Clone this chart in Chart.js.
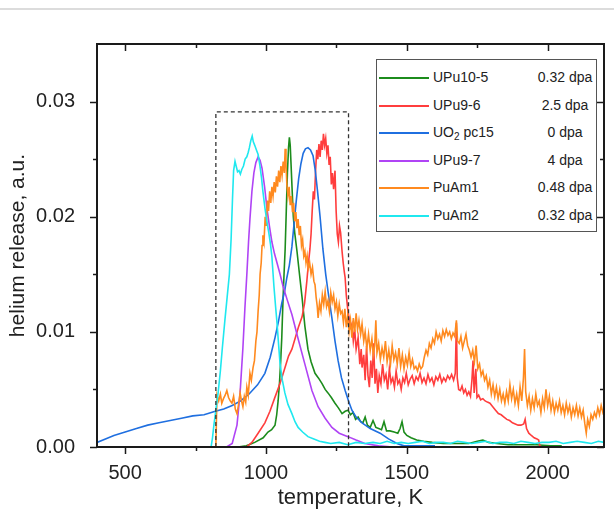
<!DOCTYPE html>
<html>
<head>
<meta charset="utf-8">
<title>helium release</title>
<script src="https://cdn.jsdelivr.net/npm/chart.js@4.4.0/dist/chart.umd.min.js"></script>
<style>
  body { margin: 0; background: #fff; font-family: "Liberation Sans", Arial, sans-serif; }
  #wrap { position: relative; width: 614px; height: 518px; }
  #topline { position: absolute; left: 0; top: 8px; width: 614px; height: 2px; background: #dcdcdc; }
  #legend { position: absolute; left: 376px; top: 59px; width: 219px; height: 167px; border: 1.5px solid #555;
            background: #fff; box-sizing: content-box; padding-top: 4px; color: #222; font-size: 14px; }
  .row { position: relative; height: 27.6px; }
  .sw { position: absolute; left: 2px; top: 13px; width: 50px; height: 2px; }
  .nm { position: absolute; left: 56px; top: 5px; white-space: nowrap; }
  .dp { position: absolute; left: 156px; width: 64px; top: 5px; text-align: center; white-space: nowrap; }
  sub { font-size: 10px; vertical-align: -3px; line-height: 0; }
</style>
</head>
<body>
<div id="wrap">
  <div id="topline"></div>
  <canvas id="chart" width="614" height="518"></canvas>
  <div id="legend"></div>
</div>
<script>
// temperature (K), helium release (a.u.)
const upu105 = [[600,0],[900,0],[930,0.0001],[960,0.0004],[990,0.0008],[1007,0.0013],[1020,0.0015],[1032,0.0019],[1038,0.0028],
  [1043,0.0040],[1048,0.0056],[1052,0.0074],[1056,0.0095],[1060,0.0125],[1064,0.0150],[1068,0.0172],[1072,0.0205],[1076,0.0238],
  [1080,0.0260],[1083,0.0269],[1086,0.0262],[1089,0.0245],[1093,0.0222],[1097,0.0200],[1102,0.0186],[1110,0.0170],[1118,0.0152],
  [1128,0.0130],[1138,0.0105],[1149,0.0085],[1160,0.0074],[1174,0.0064],[1186,0.0060],[1199,0.0055],[1210,0.0050],[1220,0.0047],
  [1232,0.0043],[1245,0.0038],[1257,0.0034],[1270,0.0029],[1281,0.0031],[1291,0.0032],[1300,0.0028],[1309,0.0030],[1318,0.0024],
  [1327,0.0026],[1336,0.0022],[1344,0.0021],[1352,0.0026],[1360,0.0019],[1370,0.0017],[1380,0.0023],[1390,0.0017],[1400,0.0016],
  [1410,0.0015],[1419,0.0022],[1428,0.0014],[1440,0.0014],[1455,0.0013],[1468,0.0012],[1476,0.0016],[1483,0.0022],[1490,0.0013],
  [1500,0.0010],[1515,0.0008],[1535,0.0006],[1560,0.0005],[1590,0.0004],[1630,0.0003],[1680,0.0003],[1720,0.0003],[1750,0.0005],
  [1770,0.0006],[1790,0.0004],[1820,0.0003],[1860,0.0002],[1910,0.0002],[1960,0.0002],[2010,0.0001],[2050,0.0001]];

const upu96 = [[900,0],[930,0],[950,0.0004],[972,0.0012],[996,0.0021],[1014,0.0031],[1030,0.0042],[1045,0.0052],[1056,0.0060],
  [1070,0.0071],[1080,0.0079],[1092,0.0085],[1103,0.0094],[1115,0.0104],[1128,0.0113],[1137,0.0125],[1145,0.0144],[1150,0.0158],
  [1156,0.0172],[1160,0.0185],[1164,0.0205],[1168,0.0222],[1172,0.0215],[1176,0.0240],[1180,0.0258],[1184,0.0250],[1188,0.0263],
  [1192,0.0252],[1196,0.0266],[1200,0.0258],[1204,0.0272],[1208,0.0262],[1212,0.0268],[1216,0.0255],[1220,0.0262],[1224,0.0245],
  [1228,0.0252],[1232,0.0228],[1236,0.0238],[1240,0.0224],[1245,0.0240],[1249,0.0205],[1253,0.0185],[1257,0.0178],[1261,0.0192],
  [1265,0.0186],[1270,0.0170],[1274,0.0160],[1278,0.0152],[1281,0.0147],[1285,0.0132],[1290,0.0120],[1295,0.0112],[1300,0.0104],
  [1305,0.0107],[1310,0.0092],[1315,0.0102],[1320,0.0085],[1327,0.0095],[1333,0.0072],[1338,0.0085],[1341,0.0069],[1347,0.0080],
  [1352,0.0058],[1357,0.0088],[1362,0.0062],[1367,0.0052],[1372,0.0075],[1377,0.0060],[1382,0.0090],[1387,0.0055],[1392,0.0068],
  [1397,0.0047],[1402,0.0062],[1408,0.0055],[1414,0.0072],[1420,0.0058],[1426,0.0063],[1432,0.0050],[1438,0.0068],[1444,0.0056],
  [1450,0.0060],[1456,0.0052],[1462,0.0066],[1468,0.0055],[1474,0.0058],[1480,0.0050],[1486,0.0060],[1492,0.0056],[1498,0.0064],
  [1505,0.0054],[1512,0.0059],[1519,0.0062],[1526,0.0055],[1533,0.0061],[1540,0.0058],[1547,0.0064],[1554,0.0056],[1561,0.0060],
  [1568,0.0055],[1575,0.0063],[1582,0.0057],[1589,0.0060],[1596,0.0054],[1603,0.0061],[1610,0.0058],[1617,0.0063],[1624,0.0056],
  [1631,0.0060],[1638,0.0057],[1645,0.0062],[1652,0.0059],[1659,0.0063],[1666,0.0058],[1672,0.0064],[1676,0.0108],[1679,0.0060],
  [1684,0.0050],[1690,0.0049],[1696,0.0053],[1702,0.0047],[1708,0.0050],[1714,0.0045],[1720,0.0048],[1726,0.0044],[1731,0.0058],
  [1735,0.0075],[1739,0.0047],[1745,0.0068],[1749,0.0043],[1755,0.0045],[1762,0.0041],[1770,0.0042],[1778,0.0040],[1786,0.0039],
  [1795,0.0038],[1805,0.0035],[1815,0.0032],[1825,0.0029],[1835,0.0028],[1845,0.0026],[1855,0.0024],[1865,0.0023],[1875,0.0021],
  [1885,0.0020],[1895,0.0019],[1905,0.0019],[1915,0.0020],[1920,0.0024],[1925,0.0016],[1933,0.0012],[1942,0.0010],[1952,0.0008],
  [1962,0.0007],[1968,0.0006],[1972,0.0001],[1980,0]];

const uo2pc15 = [[400,0.0004],[430,0.0007],[460,0.0010],[500,0.0013],[540,0.0016],[580,0.0019],[620,0.0021],[660,0.0023],
  [700,0.0025],[740,0.0027],[780,0.0028],[820,0.0031],[850,0.0033],[880,0.0036],[910,0.0040],[940,0.0046],[970,0.0054],
  [996,0.0064],[1015,0.0078],[1032,0.0095],[1045,0.0110],[1056,0.0125],[1066,0.0135],[1074,0.0147],[1083,0.0158],[1092,0.0174],
  [1100,0.0195],[1108,0.0215],[1116,0.0233],[1124,0.0246],[1132,0.0255],[1140,0.0259],[1149,0.0260],[1158,0.0258],[1167,0.0253],
  [1175,0.0240],[1183,0.0222],[1192,0.0200],[1202,0.0172],[1212,0.0150],[1222,0.0132],[1234,0.0112],[1245,0.0092],[1256,0.0075],
  [1268,0.0060],[1281,0.0049],[1293,0.0040],[1305,0.0032],[1320,0.0026],[1341,0.0021],[1370,0.0016],[1405,0.0012],[1435,0.0007],
  [1465,0.0003],[1490,0.0001],[1530,0.0001],[1600,0.0001]];

const upu97 = [[590,0],[860,0],[880,0.0003],[897,0.0019],[908,0.0047],[918,0.0086],[925,0.0120],[932,0.0150],[938,0.0178],
  [943,0.0198],[950,0.0222],[957,0.0238],[964,0.0247],[972,0.0252],[979,0.0249],[986,0.0242],[995,0.0226],[1003,0.0208],
  [1012,0.0192],[1021,0.0178],[1030,0.0168],[1039,0.0160],[1050,0.0150],[1060,0.0140],[1075,0.0128],[1092,0.0115],[1114,0.0094],
  [1138,0.0072],[1163,0.0049],[1185,0.0035],[1210,0.0025],[1234,0.0017],[1260,0.0012],[1291,0.0009],[1320,0.0006],[1351,0.0003],
  [1400,0.0001],[1450,0],[2000,0]];

const puam1 = [[822,0],[826,0.0045],[832,0.0040],[838,0.0046],[843,0.0038],[849,0.0042],[855,0.0045],[861,0.0049],[867,0.0043],
  [873,0.0040],[879,0.0038],[885,0.0044],[891,0.0033],[897,0.0029],[902,0.0036],[908,0.0047],[913,0.0040],[918,0.0035],[923,0.0044],
  [928,0.0039],[932,0.0052],[937,0.0045],[943,0.0064],[948,0.0058],[954,0.0069],[959,0.0075],[964,0.0092],[968,0.0100],[972,0.0118],
  [976,0.0132],[979,0.0150],[983,0.0160],[986,0.0175],[989,0.0184],[993,0.0178],[997,0.0200],[1001,0.0192],[1005,0.0214],[1009,0.0205],
  [1013,0.0222],[1017,0.0212],[1021,0.0226],[1025,0.0218],[1029,0.0230],[1033,0.0221],[1037,0.0235],[1041,0.0226],[1045,0.0240],
  [1049,0.0230],[1053,0.0244],[1057,0.0236],[1061,0.0248],[1065,0.0238],[1068,0.0259],[1071,0.0246],[1074,0.0228],[1078,0.0218],
  [1082,0.0226],[1086,0.0210],[1090,0.0218],[1094,0.0204],[1098,0.0212],[1102,0.0196],[1106,0.0204],[1110,0.0190],[1114,0.0198],
  [1118,0.0184],[1122,0.0192],[1126,0.0175],[1130,0.0180],[1134,0.0166],[1138,0.0170],[1142,0.0160],[1146,0.0166],[1150,0.0155],
  [1155,0.0160],[1160,0.0150],[1165,0.0156],[1170,0.0144],[1174,0.0141],[1178,0.0130],[1182,0.0122],[1185,0.0112],[1190,0.0125],
  [1195,0.0118],[1200,0.0132],[1205,0.0124],[1210,0.0135],[1215,0.0122],[1220,0.0127],[1225,0.0118],[1230,0.0134],[1235,0.0126],
  [1240,0.0132],[1245,0.0120],[1250,0.0126],[1255,0.0114],[1260,0.0124],[1265,0.0116],[1270,0.0118],[1275,0.0108],[1280,0.0120],
  [1285,0.0104],[1290,0.0114],[1295,0.0100],[1300,0.0110],[1305,0.0095],[1310,0.0112],[1315,0.0100],[1320,0.0116],[1325,0.0102],
  [1330,0.0110],[1336,0.0098],[1341,0.0107],[1347,0.0092],[1352,0.0100],[1358,0.0086],[1364,0.0098],[1370,0.0084],[1376,0.0094],
  [1381,0.0080],[1386,0.0088],[1390,0.0110],[1394,0.0082],[1400,0.0090],[1406,0.0076],[1412,0.0086],[1418,0.0078],[1424,0.0092],
  [1430,0.0074],[1436,0.0084],[1442,0.0072],[1448,0.0088],[1454,0.0076],[1460,0.0082],[1466,0.0072],[1472,0.0086],[1478,0.0070],
  [1484,0.0080],[1490,0.0068],[1496,0.0078],[1502,0.0071],[1508,0.0082],[1514,0.0070],[1520,0.0076],[1526,0.0068],[1532,0.0070],
  [1538,0.0066],[1544,0.0072],[1550,0.0068],[1556,0.0070],[1562,0.0078],[1568,0.0084],[1574,0.0080],[1580,0.0090],[1586,0.0086],
  [1592,0.0094],[1598,0.0090],[1604,0.0100],[1610,0.0094],[1616,0.0098],[1622,0.0092],[1628,0.0101],[1634,0.0096],[1640,0.0102],
  [1646,0.0097],[1652,0.0100],[1658,0.0094],[1664,0.0099],[1670,0.0096],[1676,0.0110],[1680,0.0092],[1686,0.0090],[1692,0.0096],
  [1698,0.0086],[1704,0.0092],[1710,0.0098],[1716,0.0088],[1722,0.0084],[1728,0.0078],[1734,0.0084],[1740,0.0074],[1746,0.0088],
  [1752,0.0068],[1758,0.0072],[1764,0.0062],[1770,0.0066],[1776,0.0058],[1782,0.0062],[1788,0.0052],[1794,0.0058],[1800,0.0046],
  [1806,0.0054],[1812,0.0044],[1818,0.0052],[1824,0.0042],[1830,0.0050],[1836,0.0040],[1842,0.0046],[1848,0.0038],[1854,0.0048],
  [1860,0.0040],[1866,0.0054],[1872,0.0042],[1878,0.0050],[1884,0.0038],[1890,0.0046],[1896,0.0036],[1902,0.0052],[1908,0.0040],
  [1914,0.0060],[1918,0.0085],[1922,0.0048],[1928,0.0036],[1934,0.0044],[1940,0.0032],[1946,0.0042],[1952,0.0034],[1958,0.0046],
  [1964,0.0036],[1970,0.0040],[1976,0.0030],[1982,0.0042],[1988,0.0034],[1994,0.0050],[2000,0.0036],[2006,0.0044],[2012,0.0032],
  [2018,0.0040],[2024,0.0030],[2030,0.0038],[2036,0.0032],[2042,0.0040],[2048,0.0030],[2054,0.0036],[2060,0.0028],[2066,0.0038],
  [2072,0.0030],[2078,0.0036],[2084,0.0026],[2090,0.0034],[2096,0.0028],[2102,0.0036],[2108,0.0027],[2114,0.0034],[2120,0.0026],
  [2126,0.0032],[2132,0.0020],[2137,0.0012],[2142,0.0024],[2148,0.0018],[2154,0.0028],[2160,0.0024],[2166,0.0030],[2172,0.0026],
  [2178,0.0034],[2184,0.0028],[2190,0.0036],[2196,0.0030],[2200,0.0033]];

const puam2 = [[790,0],[805,0],[810,0.0008],[815,0.0019],[822,0.0032],[830,0.0047],[838,0.0066],[845,0.0086],[854,0.0110],
  [862,0.0130],[870,0.0150],[876,0.0180],[881,0.0215],[885,0.0240],[890,0.0248],[894,0.0244],[899,0.0239],[904,0.0240],[909,0.0237],
  [914,0.0241],[920,0.0244],[926,0.0250],[932,0.0252],[937,0.0256],[941,0.0260],[946,0.0266],[951,0.0270],[955,0.0265],[960,0.0262],
  [966,0.0258],[972,0.0254],[978,0.0245],[984,0.0234],[989,0.0222],[996,0.0208],[1003,0.0196],[1010,0.0186],[1016,0.0176],
  [1021,0.0165],[1028,0.0140],[1034,0.0122],[1039,0.0108],[1045,0.0088],[1050,0.0072],[1058,0.0058],[1067,0.0047],[1078,0.0037],
  [1092,0.0029],[1103,0.0022],[1114,0.0017],[1130,0.0013],[1149,0.0009],[1170,0.0007],[1190,0.0005],[1209,0.0004],[1230,0.0003],
  [1260,0.0004],[1290,0.0002],[1320,0.0004],[1350,0.0003],[1380,0.0004],[1405,0.0003],[1430,0.0005],[1455,0.0003],[1480,0.0004],
  [1505,0.0003],[1530,0.0004],[1555,0.0005],[1580,0.0003],[1605,0.0004],[1630,0.0004],[1655,0.0003],[1680,0.0005],[1705,0.0004],
  [1730,0.0003],[1755,0.0004],[1780,0.0005],[1805,0.0003],[1830,0.0004],[1855,0.0004],[1880,0.0003],[1905,0.0005],[1930,0.0004],
  [1955,0.0003],[1980,0.0004],[2005,0.0004],[2030,0.0005],[2055,0.0003],[2080,0.0004],[2105,0.0005],[2130,0.0004],[2155,0.0003],
  [2180,0.0005],[2200,0.0004]];

const seriesData = [upu105, upu96, uo2pc15, upu97, puam1, puam2];
const seriesNames = ['UPu10-5', 'UPu9-6', 'UO<sub>2</sub> pc15', 'UPu9-7', 'PuAm1', 'PuAm2'];
const seriesDpa = ['0.32 dpa', '2.5 dpa', '0 dpa', '4 dpa', '0.48 dpa', '0.32 dpa'];
const seriesColors = ['#1c8c1c', '#ff3d3d', '#1f6fe0', '#b044f5', '#ff8a1f', '#1fe8ef'];

const xMajor = [500, 1000, 1500, 2000];
const xMinor = [750, 1250, 1750];
const yMajor = [0, 0.01, 0.02, 0.03];
const yMinor = [0.005, 0.015, 0.025];
// dashed window around the main peaks: [T from, T to, value from, value to]
const peakWindow = [822, 1293, 0, 0.0291];

const ink = '#1a1a1a';
const fontFamily = '"Liberation Sans", Arial, sans-serif';

const frameAndTicks = {
  id: 'frameAndTicks',
  afterDatasetsDraw(chart) {
    const { ctx, scales: { x, y } } = chart;
    const x0 = x.getPixelForValue(peakWindow[0]), x1 = x.getPixelForValue(peakWindow[1]);
    const y0 = y.getPixelForValue(peakWindow[2]), y1 = y.getPixelForValue(peakWindow[3]);
    ctx.save();
    ctx.strokeStyle = '#333';
    ctx.lineWidth = 1.3;
    ctx.setLineDash([4, 3]);
    ctx.beginPath();
    ctx.moveTo(x0, y0); ctx.lineTo(x0, y1); ctx.lineTo(x1, y1); ctx.lineTo(x1, y0);
    ctx.stroke();
    ctx.restore();
  },
  afterDraw(chart) {
    const { ctx, chartArea: a, scales: { x, y } } = chart;
    ctx.save();
    ctx.strokeStyle = ink;
    ctx.lineWidth = 1.5;
    const seg = (ax, ay, bx, by) => { ctx.beginPath(); ctx.moveTo(ax, ay); ctx.lineTo(bx, by); ctx.stroke(); };
    const xt = (vals, len) => vals.forEach(v => {
      const px = Math.round(x.getPixelForValue(v)) + 0.5;
      seg(px, a.bottom, px, a.bottom + len); // outward
      seg(px, a.top, px, a.top + len);       // inward
    });
    const yt = (vals, len) => vals.forEach(v => {
      const py = Math.round(y.getPixelForValue(v)) + 0.5;
      seg(a.left, py, a.left - len, py);     // outward
      seg(a.right, py, a.right - len, py);   // inward
    });
    xt(xMajor, 7); xt(xMinor, 4);
    yt(yMajor, 7); yt(yMinor, 4);
    ctx.lineWidth = 2;
    ctx.strokeRect(a.left, a.top, a.right - a.left, a.bottom - a.top);
    ctx.restore();
  }
};

new Chart(document.getElementById('chart'), {
  type: 'line',
  data: {
    datasets: seriesData.map((pts, i) => ({
      label: seriesNames[i],
      data: pts.map(p => ({ x: p[0], y: p[1] })),
      borderColor: seriesColors[i],
      backgroundColor: seriesColors[i],
      borderWidth: 1.6,
      pointRadius: 0,
      tension: 0,
      fill: false,
      order: seriesData.length - 1 - i
    }))
  },
  options: {
    responsive: false,
    animation: false,
    events: [],
    layout: { padding: { top: 44, right: 10, left: 0, bottom: 0 } },
    plugins: { legend: { display: false }, tooltip: { enabled: false } },
    scales: {
      x: {
        type: 'linear', min: 400, max: 2200,
        grid: { display: false }, border: { display: false },
        afterBuildTicks: s => { s.ticks = xMajor.map(v => ({ value: v })); },
        afterFit: s => { s.height = 71; },
        ticks: { autoSkip: false, maxRotation: 0, padding: 6, color: '#222',
                 font: { family: fontFamily, size: 20 }, callback: v => String(v) },
        title: { display: true, text: 'temperature, K', color: '#222',
                 font: { family: fontFamily, size: 22 }, padding: { top: 0, bottom: 7 } }
      },
      y: {
        type: 'linear', min: 0, max: 0.035,
        grid: { display: false }, border: { display: false },
        afterBuildTicks: s => { s.ticks = yMajor.map(v => ({ value: v })); },
        afterFit: s => { s.width = 97; },
        ticks: { autoSkip: false, padding: 14, color: '#222',
                 font: { family: fontFamily, size: 20 }, callback: v => v.toFixed(2) },
        title: { display: true, text: 'helium release, a.u.', color: '#222',
                 font: { family: fontFamily, size: 21 }, padding: { top: 6, bottom: 0 } }
      }
    }
  },
  plugins: [frameAndTicks]
});

// legend: sample line, name, dose
const legendBox = document.getElementById('legend');
seriesNames.forEach((name, i) => {
  const row = document.createElement('div');
  row.className = 'row';
  row.innerHTML = '<span class="sw" style="background:' + seriesColors[i] + '"></span>' +
    '<span class="nm">' + name + '</span><span class="dp">' + seriesDpa[i] + '</span>';
  legendBox.appendChild(row);
});
</script>
</body>
</html>
